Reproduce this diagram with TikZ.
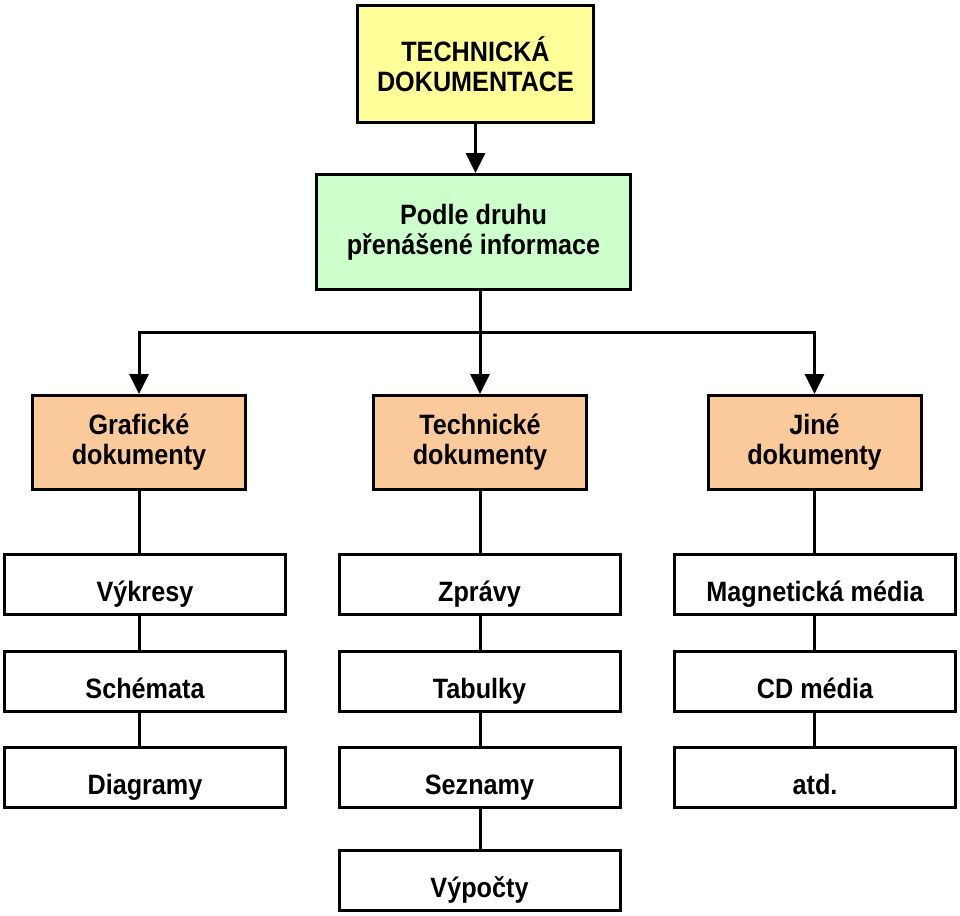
\documentclass[tikz,border=0pt]{standalone}
\usepackage{fontspec}
\setmainfont{Liberation Sans}[FakeStretch=0.9]
\usetikzlibrary{arrows.meta}
\definecolor{rootyellow}{HTML}{FFFF99}
\definecolor{splitgreen}{HTML}{CCFFCC}
\definecolor{kindpeach}{HTML}{FACA9A}
\tikzset{
  box/.style={draw, line width=3pt, align=center, inner sep=0pt,
    font=\bfseries\fontsize{28}{30}\selectfont},
  kind/.style={box, fill=kindpeach, minimum width=213pt, minimum height=94pt},
  item/.style={box, fill=white, minimum width=281pt, minimum height=60pt,
    text height=33pt, text depth=0pt},
}
\begin{document}
\begin{tikzpicture}[>={Triangle[length=20pt,width=19pt]}, x=1pt, y=-1pt, line width=3pt]
\useasboundingbox (0,0) rectangle (960,915);

\node[box, fill=rootyellow, minimum width=236pt, minimum height=117pt] (root) at (475.5,64) {TECHNICKÁ\\DOKUMENTACE};
\node[box, fill=splitgreen, minimum width=314pt, minimum height=115pt] (split) at (473.5,232) {Podle druhu\\přenášené informace};

\node[kind] (graf) at (139,442.5) {Grafické\\dokumenty};
\node[kind] (tech) at (480,442.5) {Technické\\dokumenty};
\node[kind] (jine) at (814.5,442.5) {Jiné\\dokumenty};

% first column
\node[item] (vykresy) at (145,584.5) {Výkresy};
\node[item] (schemata) at (145,681.5) {Schémata};
\node[item] (diagramy) at (145,777.5) {Diagramy};
% second column
\node[item] (zpravy) at (479.5,584.5) {Zprávy};
\node[item] (tabulky) at (479.5,681.5) {Tabulky};
\node[item] (seznamy) at (479.5,777.5) {Seznamy};
\node[item] (vypocty) at (479.5,880.5) {Výpočty};
% third column
\node[item] (magnet) at (815,584.5) {Magnetická média};
\node[item] (cd) at (815,681.5) {CD média};
\node[item] (atd) at (815,777.5) {atd.};

\draw[->] (root.south) -- (root.south |- split.north);
\coordinate (hub) at (480,332);
\draw (split.south -| hub) -- (hub);
\draw[->] (hub) -| (graf.north);
\draw[->] (hub) -- (tech.north);
\draw[->] (hub) -| (jine.north);

\draw (graf.south) -- (graf.south |- vykresy.north);
\foreach \a/\b in {vykresy/schemata, schemata/diagramy}
  \draw (\a.south -| graf.south) -- (\b.north -| graf.south);
\draw (tech.south) -- (tech.south |- zpravy.north);
\foreach \a/\b in {zpravy/tabulky, tabulky/seznamy, seznamy/vypocty}
  \draw (\a.south -| tech.south) -- (\b.north -| tech.south);
\foreach \a/\b in {jine/magnet, magnet/cd, cd/atd}
  \draw (\a.south -| jine.south) -- (\b.north -| jine.south);
\end{tikzpicture}
\end{document}
